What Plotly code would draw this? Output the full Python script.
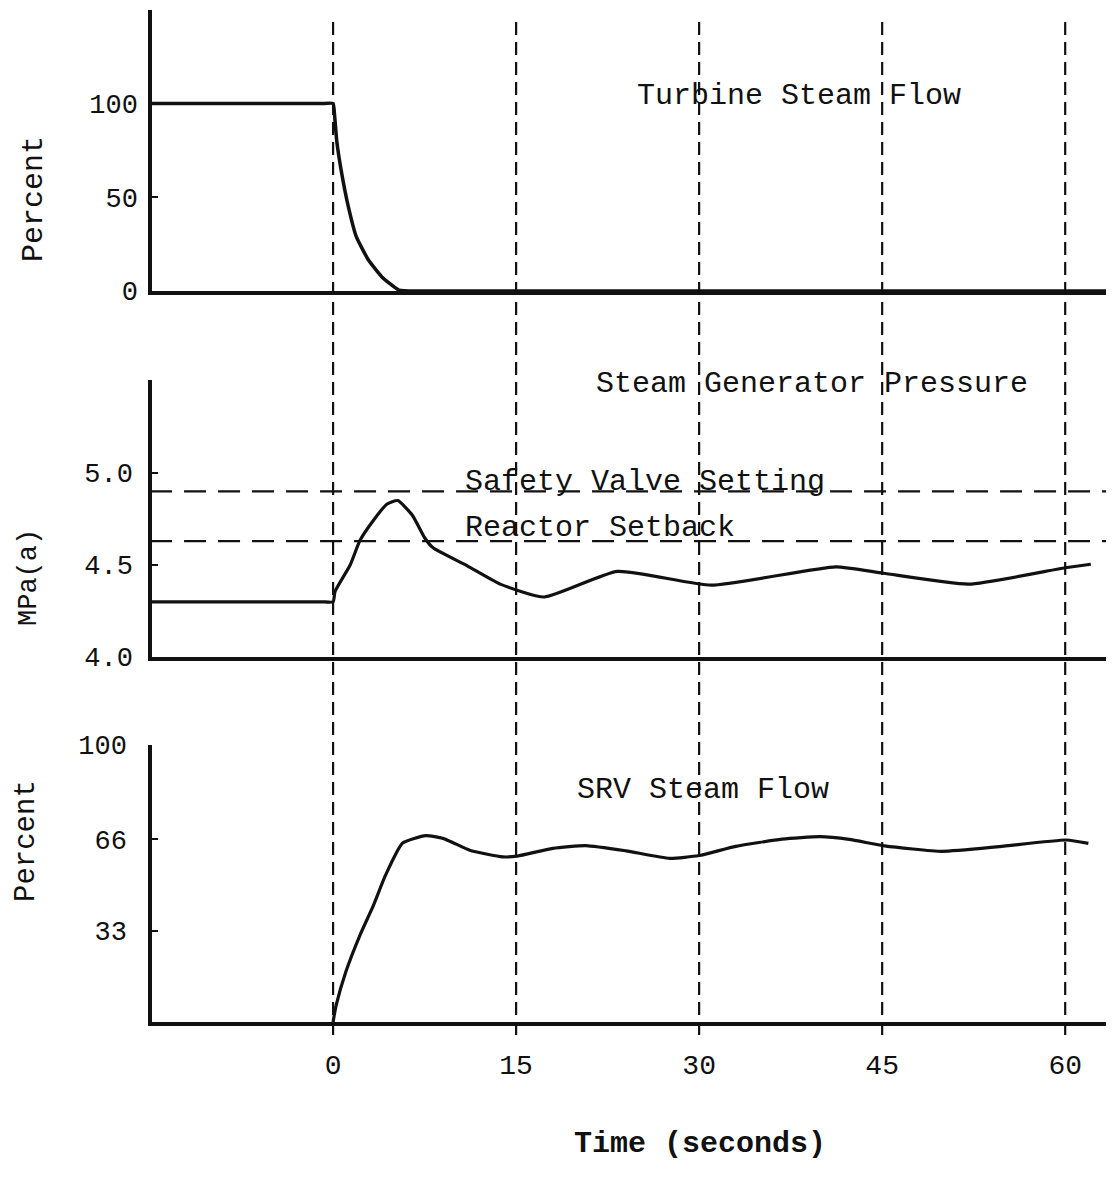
import plotly.graph_objects as go

# page body margin (8px) is compensated so figure pixels match the reference
OFF = 8
W, H = 1114 - OFF, 1184 - OFF
FONT = "Liberation Mono, Courier New, monospace"

# ---------------- data ----------------
# Turbine steam flow (percent)
turb_t = [-15, -1.0, 0.0, 0.12, 0.3, 0.7, 1.25, 1.9, 2.9, 4.0, 5.4, 7.0, 64.5]
turb_v = [100, 100, 100, 94, 80, 63, 45, 29, 16.5, 7.5, 0.5, 0, 0]

# Steam generator pressure (MPa(a))
press_t = [-15, -1.0, 0.0, 0.16, 1.4, 2.2, 3.3, 4.4, 5.3, 6.5, 7.5, 8.2, 11.0, 13.7,
           17.3, 23.3, 31.0, 41.2, 45.1, 52.1, 60.0, 62.1]
press_v = [4.30, 4.30, 4.30, 4.356, 4.50, 4.633, 4.742, 4.83, 4.85, 4.77, 4.648, 4.593,
           4.495, 4.396, 4.326, 4.465, 4.39, 4.49, 4.455, 4.396, 4.485, 4.504]

safety_valve_setting = 4.90
reactor_setback = 4.63
setting_t = [-15, 64.5]

# SRV steam flow (percent)
srv_t = [0, 0.25, 1.06, 2.2, 3.3, 4.3, 5.7, 7.6, 9.0, 9.8, 11.2, 13.9, 15.1, 18.0,
         20.7, 24.0, 27.6, 30.0, 33.0, 36.8, 39.9, 42.3, 45.2, 49.9, 54.6, 60.1, 61.9]
srv_v = [0, 6, 18.3, 31.3, 42, 53, 64.6, 67.3, 66.3, 64.8, 62.0, 59.6, 59.9, 62.7,
         63.7, 61.8, 59.1, 60.1, 63.4, 66.0, 66.9, 65.9, 63.6, 61.6, 63.3, 65.7, 64.5]

x_ticks = [0, 15, 30, 45, 60]
x_tick_labels = ["0", "15", "30", "45", "60"]
turb_y_ticks = [0, 50, 100]
turb_y_labels = ["0", "50", "100"]
press_y_ticks = [4.0, 4.5, 5.0]
press_y_labels = ["4.0", "4.5", "5.0"]
srv_y_ticks = [33, 66, 100]
srv_y_labels = ["33", "66", "100"]
event_times = [0, 15, 30, 45, 60]


def px(x):
    return (x - OFF) / W


def py(y):
    return 1 - (y - OFF) / H


X_RANGE = [-14.84, 64.0]
X_DOMAIN = [px(152), 1.0]
INK = "#111111"

fig = go.Figure()

fig.add_trace(go.Scatter(x=turb_t, y=turb_v, xaxis="x", yaxis="y", mode="lines",
                         line=dict(color=INK, width=3.5, shape="spline", smoothing=0.4),
                         showlegend=False, hoverinfo="skip"))
fig.add_trace(go.Scatter(x=setting_t, y=[safety_valve_setting] * 2, xaxis="x2", yaxis="y2",
                         mode="lines", line=dict(color=INK, width=2.2, dash="22px,12px"),
                         showlegend=False, hoverinfo="skip"))
fig.add_trace(go.Scatter(x=setting_t, y=[reactor_setback] * 2, xaxis="x2", yaxis="y2",
                         mode="lines", line=dict(color=INK, width=2.2, dash="22px,12px"),
                         showlegend=False, hoverinfo="skip"))
fig.add_trace(go.Scatter(x=press_t, y=press_v, xaxis="x2", yaxis="y2", mode="lines",
                         line=dict(color=INK, width=3.2, shape="spline", smoothing=0.5),
                         showlegend=False, hoverinfo="skip"))
fig.add_trace(go.Scatter(x=srv_t, y=srv_v, xaxis="x3", yaxis="y3", mode="lines",
                         line=dict(color=INK, width=3.2, shape="spline", smoothing=0.5),
                         showlegend=False, hoverinfo="skip"))

# vertical dashed time markers through all three panels
for t in event_times:
    fig.add_shape(type="line", xref="x3", yref="paper", x0=t, x1=t,
                  y0=py(1035), y1=py(18),
                  line=dict(color=INK, width=2.2, dash="13px,7px"))

axis_common = dict(showline=True, linecolor=INK, linewidth=3.5, showgrid=False,
                   zeroline=False, mirror=False, automargin=False)
tickfont = dict(family=FONT, size=27, color=INK)

xa_common = dict(axis_common, domain=X_DOMAIN, range=X_RANGE, tickvals=x_ticks,
                 ticktext=x_tick_labels, ticks="",
                 tickfont=dict(family=FONT, size=28, color=INK))

fig.update_layout(
    template="none",
    width=W, height=H, autosize=False,
    margin=dict(l=0, r=0, t=0, b=0, pad=0),
    paper_bgcolor="white", plot_bgcolor="white",
    showlegend=False,
    xaxis=dict(xa_common, anchor="y", showticklabels=False),
    xaxis2=dict(xa_common, anchor="y2", showticklabels=False),
    xaxis3=dict(xa_common, anchor="y3", showticklabels=True, ticklabelstandoff=15),
    yaxis=dict(axis_common, domain=[py(291), py(10)], range=[0, 149.9], anchor="x",
               tickvals=turb_y_ticks, ticktext=turb_y_labels, ticks="inside", ticklen=6,
               tickwidth=2, tickcolor=INK, tickfont=tickfont, ticklabelstandoff=5),
    yaxis2=dict(axis_common, domain=[py(657), py(380)], range=[4.0, 5.505], anchor="x2",
                tickvals=press_y_ticks, ticktext=press_y_labels, ticks="inside", ticklen=6,
                tickwidth=2, tickcolor=INK, tickfont=tickfont, ticklabelstandoff=10),
    yaxis3=dict(axis_common, domain=[py(1022), py(745)], range=[0, 100], anchor="x3",
                tickvals=srv_y_ticks, ticktext=srv_y_labels, ticks="inside", ticklen=6,
                tickwidth=2, tickcolor=INK, tickfont=tickfont, ticklabelstandoff=16),
)

lab = dict(family=FONT, size=30, color=INK)
annotations = [
    dict(text="Turbine Steam Flow", x=px(799), y=py(96), xanchor="center", yanchor="middle", font=lab),
    dict(text="Steam Generator Pressure", x=px(812), y=py(384), xanchor="center", yanchor="middle", font=lab),
    dict(text="Safety Valve Setting", x=px(645), y=py(482), xanchor="center", yanchor="middle", font=lab),
    dict(text="Reactor Setback", x=px(600), y=py(528), xanchor="center", yanchor="middle", font=lab),
    dict(text="SRV Steam Flow", x=px(703), y=py(790), xanchor="center", yanchor="middle", font=lab),
    dict(text="<b>Time (seconds)</b>", x=px(700), y=py(1144), xanchor="center", yanchor="middle", font=lab),
    dict(text="Percent", x=px(34), y=py(199), textangle=-90, xanchor="center", yanchor="middle", font=lab),
    dict(text="MPa(a)", x=px(29), y=py(578), textangle=-90, xanchor="center", yanchor="middle",
         font=dict(family=FONT, size=27, color=INK)),
    dict(text="Percent", x=px(26), y=py(841), textangle=-90, xanchor="center", yanchor="middle",
         font=dict(family=FONT, size=29, color=INK)),
]
for a in annotations:
    a.update(xref="paper", yref="paper", showarrow=False)
fig.update_layout(annotations=annotations)

fig.write_html("out.html")
